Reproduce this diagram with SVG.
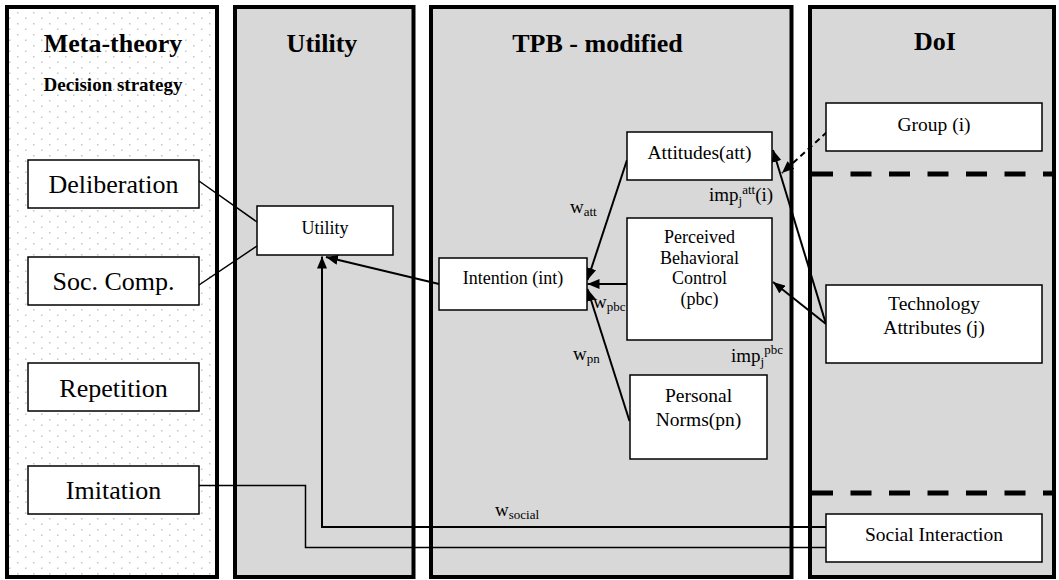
<svg xmlns="http://www.w3.org/2000/svg" width="1059" height="580" viewBox="0 0 1059 580">
  <defs>
    <pattern id="dots" width="16" height="11" patternUnits="userSpaceOnUse">
      <rect width="16" height="11" fill="#ffffff"/>
      <rect x="1" y="1" width="1.5" height="1.5" fill="#c4c4c4"/>
      <rect x="9" y="6.5" width="1.5" height="1.5" fill="#c4c4c4"/>
    </pattern>
    <marker id="ah" viewBox="0 0 12 10" refX="12" refY="5" markerWidth="12" markerHeight="10" markerUnits="userSpaceOnUse" orient="auto">
      <path d="M0,0 L12,5 L0,10 z" fill="#000"/>
    </marker>
    <style>
      .panel { stroke: #000; stroke-width: 4; }
      .grey { fill: #d8d8d8; }
      .box { fill: #fff; stroke: #000; stroke-width: 1.5; }
      .title { font-family: "Liberation Serif", "Times New Roman", serif; font-weight: bold; font-size: 26px; text-anchor: middle; fill: #000; }
      .sub { font-family: "Liberation Serif", "Times New Roman", serif; font-weight: bold; font-size: 19px; text-anchor: middle; fill: #000; }
      .big { font-family: "Liberation Serif", "Times New Roman", serif; font-size: 26px; text-anchor: middle; fill: #000; }
      .t18 { font-family: "Liberation Serif", "Times New Roman", serif; font-size: 18px; text-anchor: middle; fill: #000; }
      .t20 { font-family: "Liberation Serif", "Times New Roman", serif; font-size: 19.5px; text-anchor: middle; fill: #000; }
      .lbl { font-family: "Liberation Serif", "Times New Roman", serif; font-size: 19px; fill: #000; }
      .small { font-size: 13px; }
      .conn { fill: none; stroke: #000; stroke-width: 2; }
      .thin { fill: none; stroke: #000; stroke-width: 1.5; }
      .dashsep { fill: none; stroke: #000; stroke-width: 5; stroke-dasharray: 21 17.5; }
    </style>
  </defs>

  <!-- panels -->
  <g id="panel-meta">
    <rect class="panel" x="7" y="7" width="210" height="570" fill="url(#dots)"/>
    <text class="title" x="113" y="52">Meta-theory</text>
    <text class="sub" x="113" y="91">Decision strategy</text>
  </g>
  <g id="panel-utility">
    <rect class="panel grey" x="235" y="7" width="178.5" height="570"/>
    <text class="title" x="322" y="52">Utility</text>
  </g>
  <g id="panel-tpb">
    <rect class="panel grey" x="431" y="7" width="360.5" height="570"/>
    <text class="title" x="597.5" y="52">TPB - modified</text>
  </g>
  <g id="panel-doi">
    <rect class="panel grey" x="810" y="7" width="244" height="570"/>
    <text class="title" x="935" y="50">DoI</text>
    <line class="dashsep" x1="812" y1="174" x2="1054" y2="174"/>
    <line class="dashsep" x1="812" y1="493" x2="1054" y2="493"/>
  </g>

  <!-- connectors -->
  <g id="connectors">
    <line class="thin" x1="199" y1="181" x2="257" y2="222"/>
    <line class="thin" x1="199" y1="285" x2="257" y2="246"/>
    <polyline class="thin" points="199,485.5 305.5,485.5 305.5,547.5 826,547.5"/>
    <polyline class="conn" points="826,527 322,527 322,256.5" marker-end="url(#ah)"/>
    <line class="conn" x1="439" y1="284" x2="326" y2="257" marker-end="url(#ah)"/>
    <line class="conn" x1="627" y1="160" x2="587.5" y2="280" marker-end="url(#ah)"/>
    <line class="conn" x1="627" y1="284" x2="587.5" y2="284" marker-end="url(#ah)"/>
    <line class="conn" x1="629.5" y1="421" x2="587.5" y2="289" marker-end="url(#ah)"/>
    <line class="conn" x1="826" y1="324" x2="773" y2="150" marker-end="url(#ah)"/>
    <line class="conn" x1="826" y1="324" x2="773" y2="282" marker-end="url(#ah)"/>
    <line class="conn" x1="827" y1="132" x2="782" y2="173" stroke-dasharray="6 4" marker-end="url(#ah)"/>
  </g>

  <!-- Meta-theory nodes -->
  <g id="deliberation">
    <rect class="box" x="28" y="160" width="171" height="48"/>
    <text class="big" x="113.5" y="193">Deliberation</text>
  </g>
  <g id="soc-comp">
    <rect class="box" x="28" y="257" width="171" height="48"/>
    <text class="big" x="113.5" y="290">Soc. Comp.</text>
  </g>
  <g id="repetition">
    <rect class="box" x="28" y="363" width="171" height="48"/>
    <text class="big" x="113.5" y="397">Repetition</text>
  </g>
  <g id="imitation">
    <rect class="box" x="28" y="466" width="171" height="48"/>
    <text class="big" x="113.5" y="499">Imitation</text>
  </g>

  <!-- Utility node -->
  <g id="utility">
    <rect class="box" x="257" y="206" width="136" height="49"/>
    <text class="t18" x="325" y="234">Utility</text>
  </g>

  <!-- TPB nodes -->
  <g id="intention">
    <rect class="box" x="439" y="258" width="148" height="52"/>
    <text class="t18" x="513" y="284">Intention (int)</text>
  </g>
  <g id="attitudes">
    <rect class="box" x="627" y="132" width="145" height="48"/>
    <text class="t20" x="699.5" y="159">Attitudes(att)</text>
  </g>
  <g id="pbc">
    <rect class="box" x="627" y="218" width="145" height="122"/>
    <text class="t18" x="699.5" y="243">Perceived</text>
    <text class="t18" x="699.5" y="264">Behavioral</text>
    <text class="t18" x="699.5" y="284">Control</text>
    <text class="t18" x="699.5" y="305">(pbc)</text>
  </g>
  <g id="personal-norms">
    <rect class="box" x="630" y="375" width="137" height="84"/>
    <text class="t20" x="698.5" y="402">Personal</text>
    <text class="t20" x="698.5" y="426">Norms(pn)</text>
  </g>

  <!-- DoI nodes -->
  <g id="group">
    <rect class="box" x="826" y="103" width="216" height="48"/>
    <text class="t20" x="934" y="131">Group (i)</text>
  </g>
  <g id="technology">
    <rect class="box" x="826" y="285" width="216" height="78"/>
    <text class="t20" x="934" y="310">Technology</text>
    <text class="t20" x="934" y="334">Attributes (j)</text>
  </g>
  <g id="social-interaction">
    <rect class="box" x="826" y="514" width="216" height="48"/>
    <text class="t20" x="934" y="541">Social Interaction</text>
  </g>

  <!-- labels -->
  <g id="labels">
    <text class="lbl" x="570" y="213">w<tspan class="small" dy="3">att</tspan></text>
    <text class="lbl" x="593" y="308">w<tspan class="small" dy="3">pbc</tspan></text>
    <text class="lbl" x="573" y="360">w<tspan class="small" dy="3">pn</tspan></text>
    <text class="lbl" x="495" y="516">w<tspan class="small" dy="3">social</tspan></text>
    <text class="lbl" x="709" y="201">imp<tspan class="small" dy="4">j</tspan><tspan class="small" dy="-11">att</tspan><tspan dy="7">(i)</tspan></text>
    <text class="lbl" x="731" y="362">imp<tspan class="small" dy="4">j</tspan><tspan class="small" dy="-12">pbc</tspan></text>
  </g>
</svg>
